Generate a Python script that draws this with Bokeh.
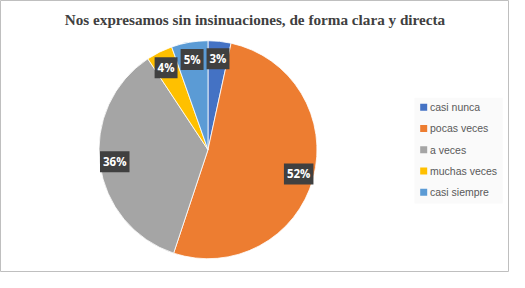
import math
from bokeh.plotting import figure
from bokeh.models import Range1d, ColumnDataSource
from bokeh.core.properties import value
from bokeh.embed import file_html
from bokeh.resources import INLINE

title_text = "Nos expresamos sin insinuaciones, de forma clara y directa"
categories = ["casi nunca", "pocas veces", "a veces", "muchas veces", "casi siempre"]
shares = [3.4, 51.7, 35.6, 3.9, 5.4]
colors = ["#4472C4", "#ED7D31", "#A5A5A5", "#FFC000", "#5B9BD5"]

W, H = 509, 272
# data coordinates span the reference canvas (525 x 288), y flipped
p = figure(width=W, height=H, output_backend="svg", toolbar_location=None,
           x_range=Range1d(0, 525), y_range=Range1d(0, 288), min_border=0)
p.axis.visible = False
p.grid.visible = False
p.outline_line_color = "#BFBFBF"
p.background_fill_color = "white"
p.border_fill_color = "white"

cx, cy = 214, 288 - 158
R_px = 109  # screen radius
total = sum(shares)
starts, ends, lx, ly, labels = [], [], [], [], []
cum = 0.0
for s in shares:
    f0 = cum / total
    cum += s
    f1 = cum / total
    starts.append(math.pi / 2 - f0 * 2 * math.pi)
    ends.append(math.pi / 2 - f1 * 2 * math.pi)
    mid = (f0 + f1) / 2 * 2 * math.pi
    lx.append(cx + 97 * math.sin(mid))
    ly.append(cy + 97 * math.cos(mid))
    labels.append(f"{round(s / total * 100)}%")

src = ColumnDataSource(dict(start=starts, end=ends, color=colors, lx=lx, ly=ly, label=labels))
p.wedge(x=cx, y=cy, radius=R_px, radius_units="screen", start_angle="start", end_angle="end",
        direction="clock", fill_color="color", line_color="white", line_width=0.8, source=src)

p.text(x="lx", y="ly", text="label", source=src, text_align="center", text_baseline="middle",
       text_font=value("Open Sans"), text_font_style="bold", text_font_size="11.5px",
       text_color="white", background_fill_color="#404040", padding=3)

# title
p.text(x=[262.5], y=[288 - 20], text=[title_text], text_align="center", text_baseline="middle",
       text_font=value("Liberation Serif"), text_font_style="bold", text_font_size="15.2px",
       text_color="#404040")

# legend
p.quad(left=[427], right=[518], bottom=[288 - 215], top=[288 - 103], fill_color="#FAFAFA",
       line_color=None)
leg_y = [288 - (113 + i * 22.5) for i in range(len(categories))]
leg_src = ColumnDataSource(dict(y=leg_y, color=colors, cat=categories))
p.scatter(x=436.5, y="y", marker="square", size=7, fill_color="color", line_color=None, source=leg_src)
p.text(x=443, y="y", text="cat", source=leg_src, text_align="left", text_baseline="middle",
       text_font=value("Liberation Sans"), text_font_size="10.5px", text_color="#595959")

open("out.html", "w").write(file_html(p, INLINE))
